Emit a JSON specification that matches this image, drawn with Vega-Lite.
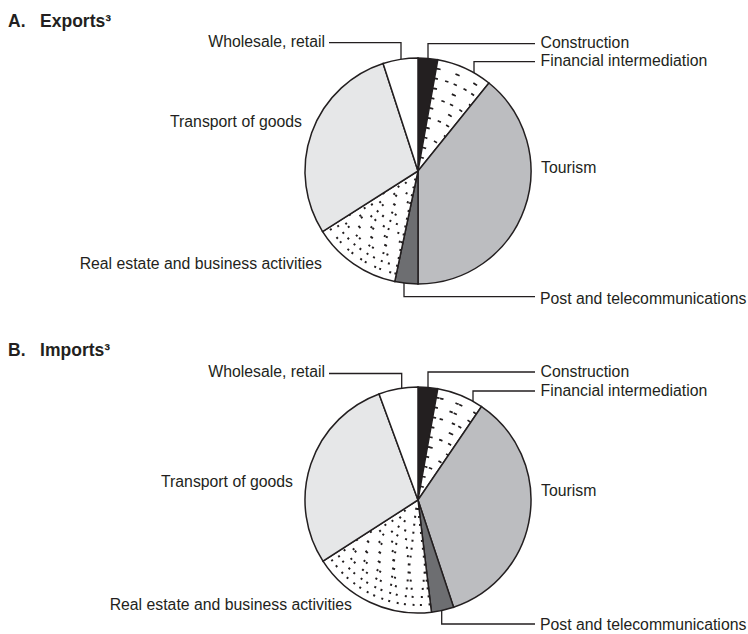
{
  "$schema": "https://vega.github.io/schema/vega-lite/v6.json",
  "padding": {"top": 12, "left": 0, "right": 0, "bottom": 0},
  "background": "white",
  "spacing": 34,
  "config": {"view": {"stroke": null}, "font": "Liberation Sans"},
  "datasets": {
    "slices": [
      {"flow": "Exports", "idx": 1, "sector": "Construction", "share": 2.8},
      {"flow": "Exports", "idx": 2, "sector": "Financial intermediation", "share": 8.0},
      {"flow": "Exports", "idx": 3, "sector": "Tourism", "share": 39.2},
      {"flow": "Exports", "idx": 4, "sector": "Post and telecommunications", "share": 3.3},
      {"flow": "Exports", "idx": 5, "sector": "Real estate and business activities", "share": 12.7},
      {"flow": "Exports", "idx": 6, "sector": "Transport of goods", "share": 29.0},
      {"flow": "Exports", "idx": 7, "sector": "Wholesale, retail", "share": 5.0},
      {"flow": "Imports", "idx": 1, "sector": "Construction", "share": 2.8},
      {"flow": "Imports", "idx": 2, "sector": "Financial intermediation", "share": 6.7},
      {"flow": "Imports", "idx": 3, "sector": "Tourism", "share": 35.4},
      {"flow": "Imports", "idx": 4, "sector": "Post and telecommunications", "share": 3.2},
      {"flow": "Imports", "idx": 5, "sector": "Real estate and business activities", "share": 17.8},
      {"flow": "Imports", "idx": 6, "sector": "Transport of goods", "share": 28.5},
      {"flow": "Imports", "idx": 7, "sector": "Wholesale, retail", "share": 5.6}
    ],
    "labels": [
      {"flow": "Exports", "label": "Wholesale, retail", "side": "left", "x": -93, "y": -124.5},
      {"flow": "Exports", "label": "Construction", "side": "right", "x": 122.5, "y": -123},
      {"flow": "Exports", "label": "Financial intermediation", "side": "right", "x": 122.5, "y": -105.5},
      {"flow": "Exports", "label": "Tourism", "side": "right", "x": 123, "y": 2},
      {"flow": "Exports", "label": "Post and telecommunications", "side": "right", "x": 122, "y": 133},
      {"flow": "Exports", "label": "Transport of goods", "side": "left", "x": -116, "y": -44},
      {"flow": "Exports", "label": "Real estate and business activities", "side": "left", "x": -96, "y": 98.3},
      {"flow": "Imports", "label": "Wholesale, retail", "side": "left", "x": -93, "y": -123.5},
      {"flow": "Imports", "label": "Construction", "side": "right", "x": 122.5, "y": -123.3},
      {"flow": "Imports", "label": "Financial intermediation", "side": "right", "x": 122.5, "y": -103.7},
      {"flow": "Imports", "label": "Tourism", "side": "right", "x": 123, "y": -4.5},
      {"flow": "Imports", "label": "Post and telecommunications", "side": "right", "x": 122, "y": 129.5},
      {"flow": "Imports", "label": "Transport of goods", "side": "left", "x": -125, "y": -13.2},
      {"flow": "Imports", "label": "Real estate and business activities", "side": "left", "x": -66, "y": 109.7}
    ],
    "leaders": [
      {"flow": "Exports", "label": "Wholesale, retail", "seq": 1, "x": -89, "y": -128.3},
      {"flow": "Exports", "label": "Wholesale, retail", "seq": 2, "x": -17, "y": -128.3},
      {"flow": "Exports", "label": "Wholesale, retail", "seq": 3, "x": -17, "y": -112},
      {"flow": "Exports", "label": "Construction", "seq": 1, "x": 10, "y": -112.5},
      {"flow": "Exports", "label": "Construction", "seq": 2, "x": 10, "y": -127.3},
      {"flow": "Exports", "label": "Construction", "seq": 3, "x": 117, "y": -127.3},
      {"flow": "Exports", "label": "Financial intermediation", "seq": 1, "x": 56, "y": -98},
      {"flow": "Exports", "label": "Financial intermediation", "seq": 2, "x": 56, "y": -109.3},
      {"flow": "Exports", "label": "Financial intermediation", "seq": 3, "x": 117, "y": -109.3},
      {"flow": "Exports", "label": "Post and telecommunications", "seq": 1, "x": -14, "y": 112},
      {"flow": "Exports", "label": "Post and telecommunications", "seq": 2, "x": -14, "y": 125.7},
      {"flow": "Exports", "label": "Post and telecommunications", "seq": 3, "x": 117, "y": 125.7},
      {"flow": "Imports", "label": "Wholesale, retail", "seq": 1, "x": -89, "y": -126.5},
      {"flow": "Imports", "label": "Wholesale, retail", "seq": 2, "x": -16.3, "y": -126.5},
      {"flow": "Imports", "label": "Wholesale, retail", "seq": 3, "x": -16.3, "y": -112},
      {"flow": "Imports", "label": "Construction", "seq": 1, "x": 10, "y": -112.5},
      {"flow": "Imports", "label": "Construction", "seq": 2, "x": 10, "y": -128},
      {"flow": "Imports", "label": "Construction", "seq": 3, "x": 117, "y": -128},
      {"flow": "Imports", "label": "Financial intermediation", "seq": 1, "x": 55, "y": -98.7},
      {"flow": "Imports", "label": "Financial intermediation", "seq": 2, "x": 55, "y": -109},
      {"flow": "Imports", "label": "Financial intermediation", "seq": 3, "x": 117, "y": -109},
      {"flow": "Imports", "label": "Post and telecommunications", "seq": 1, "x": 23.7, "y": 110.5},
      {"flow": "Imports", "label": "Post and telecommunications", "seq": 2, "x": 23.7, "y": 124},
      {"flow": "Imports", "label": "Post and telecommunications", "seq": 3, "x": 117, "y": 124}
    ]
  },
  "vconcat": [
    {
      "title": {"text": "A.\u00a0\u00a0\u00a0Exports³", "anchor": "start", "fontSize": 17.5, "fontWeight": "bold", "dx": 8, "offset": 2, "color": "#231f20", "font": "Liberation Sans"},
      "width": 748,
      "height": 275,
      "layer": [
        {
          "data": {"name": "slices"},
          "transform": [{"filter": "datum.flow === 'Exports'"}, {"stack": "share", "groupby": ["flow"], "sort": [{"field": "idx", "order": "ascending"}], "as": ["s0", "s1"]}],
          "mark": {"type": "arc", "outerRadius": 113, "stroke": "#231f20", "strokeWidth": 1.5},
          "encoding": {
            "theta": {"field": "s0", "type": "quantitative", "scale": {"domain": [0, 100]}},
            "theta2": {"field": "s1"},
            "color": {"field": "sector", "type": "nominal", "legend": null,
              "scale": {"domain": ["Construction", "Financial intermediation", "Tourism", "Post and telecommunications", "Real estate and business activities", "Transport of goods", "Wholesale, retail"],
                        "range": ["#231f20", "#ffffff", "#bcbdc0", "#6d6e71", "#ffffff", "#e6e7e8", "#ffffff"]}},
            "x": {"datum": 0, "type": "quantitative", "scale": {"domain": [-418, 330], "nice": false, "zero": false}, "axis": null},
            "y": {"datum": 0, "type": "quantitative", "scale": {"domain": [-139, 136], "nice": false, "zero": false, "reverse": true}, "axis": null}
          }
        },
        {
          "data": {"name": "slices"},
          "transform": [{"filter": "datum.flow === 'Exports'"}, {"stack": "share", "groupby": ["flow"], "sort": [{"field": "idx", "order": "ascending"}], "as": ["s0", "s1"]}, {"filter": "datum.sector === 'Real estate and business activities'"}],
          "encoding": {
            "theta": {"field": "s0", "type": "quantitative", "scale": {"domain": [0, 100]}},
            "theta2": {"field": "s1"},
            "x": {"datum": 0, "type": "quantitative", "scale": {"domain": [-418, 330], "nice": false, "zero": false}, "axis": null},
            "y": {"datum": 0, "type": "quantitative", "scale": {"domain": [-139, 136], "nice": false, "zero": false, "reverse": true}, "axis": null}
          },
          "layer": [
            {"mark": {"type": "arc", "innerRadius": 9, "outerRadius": 9, "fillOpacity": 0, "stroke": "#231f20", "strokeWidth": 2, "strokeDash": [2, 14]}},
            {"mark": {"type": "arc", "innerRadius": 17, "outerRadius": 17, "fillOpacity": 0, "stroke": "#231f20", "strokeWidth": 2, "strokeDash": [2, 14]}},
            {"mark": {"type": "arc", "innerRadius": 25, "outerRadius": 25, "fillOpacity": 0, "stroke": "#231f20", "strokeWidth": 2, "strokeDash": [2, 14]}},
            {"mark": {"type": "arc", "innerRadius": 33, "outerRadius": 33, "fillOpacity": 0, "stroke": "#231f20", "strokeWidth": 2, "strokeDash": [2, 14]}},
            {"mark": {"type": "arc", "innerRadius": 41, "outerRadius": 41, "fillOpacity": 0, "stroke": "#231f20", "strokeWidth": 2, "strokeDash": [2, 14]}},
            {"mark": {"type": "arc", "innerRadius": 49, "outerRadius": 49, "fillOpacity": 0, "stroke": "#231f20", "strokeWidth": 2, "strokeDash": [2, 14]}},
            {"mark": {"type": "arc", "innerRadius": 57, "outerRadius": 57, "fillOpacity": 0, "stroke": "#231f20", "strokeWidth": 2, "strokeDash": [2, 14]}},
            {"mark": {"type": "arc", "innerRadius": 65, "outerRadius": 65, "fillOpacity": 0, "stroke": "#231f20", "strokeWidth": 2, "strokeDash": [2, 14]}},
            {"mark": {"type": "arc", "innerRadius": 73, "outerRadius": 73, "fillOpacity": 0, "stroke": "#231f20", "strokeWidth": 2, "strokeDash": [2, 14]}},
            {"mark": {"type": "arc", "innerRadius": 81, "outerRadius": 81, "fillOpacity": 0, "stroke": "#231f20", "strokeWidth": 2, "strokeDash": [2, 14]}},
            {"mark": {"type": "arc", "innerRadius": 89, "outerRadius": 89, "fillOpacity": 0, "stroke": "#231f20", "strokeWidth": 2, "strokeDash": [2, 14]}},
            {"mark": {"type": "arc", "innerRadius": 97, "outerRadius": 97, "fillOpacity": 0, "stroke": "#231f20", "strokeWidth": 2, "strokeDash": [2, 14]}},
            {"mark": {"type": "arc", "innerRadius": 105, "outerRadius": 105, "fillOpacity": 0, "stroke": "#231f20", "strokeWidth": 2, "strokeDash": [2, 14]}}
          ]
        },
        {
          "data": {"name": "slices"},
          "transform": [{"filter": "datum.flow === 'Exports'"}, {"stack": "share", "groupby": ["flow"], "sort": [{"field": "idx", "order": "ascending"}], "as": ["s0", "s1"]}, {"filter": "datum.sector === 'Financial intermediation'"}],
          "encoding": {
            "theta": {"field": "s0", "type": "quantitative", "scale": {"domain": [0, 100]}},
            "theta2": {"field": "s1"},
            "x": {"datum": 0, "type": "quantitative", "scale": {"domain": [-418, 330], "nice": false, "zero": false}, "axis": null},
            "y": {"datum": 0, "type": "quantitative", "scale": {"domain": [-139, 136], "nice": false, "zero": false, "reverse": true}, "axis": null}
          },
          "layer": [
            {"mark": {"type": "arc", "innerRadius": 14, "outerRadius": 14, "fillOpacity": 0, "stroke": "#231f20", "strokeWidth": 1.7, "strokeDash": [3.5, 16.5]}},
            {"mark": {"type": "arc", "innerRadius": 24, "outerRadius": 24, "fillOpacity": 0, "stroke": "#231f20", "strokeWidth": 1.7, "strokeDash": [3.5, 16.5]}},
            {"mark": {"type": "arc", "innerRadius": 34, "outerRadius": 34, "fillOpacity": 0, "stroke": "#231f20", "strokeWidth": 1.7, "strokeDash": [3.5, 16.5]}},
            {"mark": {"type": "arc", "innerRadius": 44, "outerRadius": 44, "fillOpacity": 0, "stroke": "#231f20", "strokeWidth": 1.7, "strokeDash": [3.5, 16.5]}},
            {"mark": {"type": "arc", "innerRadius": 54, "outerRadius": 54, "fillOpacity": 0, "stroke": "#231f20", "strokeWidth": 1.7, "strokeDash": [3.5, 16.5]}},
            {"mark": {"type": "arc", "innerRadius": 64, "outerRadius": 64, "fillOpacity": 0, "stroke": "#231f20", "strokeWidth": 1.7, "strokeDash": [3.5, 16.5]}},
            {"mark": {"type": "arc", "innerRadius": 74, "outerRadius": 74, "fillOpacity": 0, "stroke": "#231f20", "strokeWidth": 1.7, "strokeDash": [3.5, 16.5]}},
            {"mark": {"type": "arc", "innerRadius": 84, "outerRadius": 84, "fillOpacity": 0, "stroke": "#231f20", "strokeWidth": 1.7, "strokeDash": [3.5, 16.5]}},
            {"mark": {"type": "arc", "innerRadius": 94, "outerRadius": 94, "fillOpacity": 0, "stroke": "#231f20", "strokeWidth": 1.7, "strokeDash": [3.5, 16.5]}},
            {"mark": {"type": "arc", "innerRadius": 104, "outerRadius": 104, "fillOpacity": 0, "stroke": "#231f20", "strokeWidth": 1.7, "strokeDash": [3.5, 16.5]}}
          ]
        },
        {
          "data": {"name": "leaders"},
          "transform": [{"filter": "datum.flow === 'Exports'"}],
          "mark": {"type": "line", "stroke": "#231f20", "strokeWidth": 1.3},
          "encoding": {
            "x": {"field": "x", "type": "quantitative", "scale": {"domain": [-418, 330], "nice": false, "zero": false}, "axis": null},
            "y": {"field": "y", "type": "quantitative", "scale": {"domain": [-139, 136], "nice": false, "zero": false, "reverse": true}, "axis": null},
            "detail": {"field": "label"},
            "order": {"field": "seq", "type": "quantitative"}
          }
        },
        {
          "data": {"name": "labels"},
          "transform": [{"filter": "datum.flow === 'Exports' && datum.side === 'right'"}],
          "mark": {"type": "text", "align": "left", "baseline": "alphabetic", "fontSize": 15.8, "font": "Liberation Sans", "color": "#231f20"},
          "encoding": {
            "x": {"field": "x", "type": "quantitative", "scale": {"domain": [-418, 330], "nice": false, "zero": false}, "axis": null},
            "y": {"field": "y", "type": "quantitative", "scale": {"domain": [-139, 136], "nice": false, "zero": false, "reverse": true}, "axis": null},
            "text": {"field": "label"}
          }
        },
        {
          "data": {"name": "labels"},
          "transform": [{"filter": "datum.flow === 'Exports' && datum.side === 'left'"}],
          "mark": {"type": "text", "align": "right", "baseline": "alphabetic", "fontSize": 15.8, "font": "Liberation Sans", "color": "#231f20"},
          "encoding": {
            "x": {"field": "x", "type": "quantitative", "scale": {"domain": [-418, 330], "nice": false, "zero": false}, "axis": null},
            "y": {"field": "y", "type": "quantitative", "scale": {"domain": [-139, 136], "nice": false, "zero": false, "reverse": true}, "axis": null},
            "text": {"field": "label"}
          }
        }
      ]
    },
    {
      "title": {"text": "B.\u00a0\u00a0\u00a0Imports³", "anchor": "start", "fontSize": 17.5, "fontWeight": "bold", "dx": 8, "offset": 2, "color": "#231f20", "font": "Liberation Sans"},
      "width": 748,
      "height": 272,
      "layer": [
        {
          "data": {"name": "slices"},
          "transform": [{"filter": "datum.flow === 'Imports'"}, {"stack": "share", "groupby": ["flow"], "sort": [{"field": "idx", "order": "ascending"}], "as": ["s0", "s1"]}],
          "mark": {"type": "arc", "outerRadius": 113, "stroke": "#231f20", "strokeWidth": 1.5},
          "encoding": {
            "theta": {"field": "s0", "type": "quantitative", "scale": {"domain": [0, 100]}},
            "theta2": {"field": "s1"},
            "color": {"field": "sector", "type": "nominal", "legend": null,
              "scale": {"domain": ["Construction", "Financial intermediation", "Tourism", "Post and telecommunications", "Real estate and business activities", "Transport of goods", "Wholesale, retail"],
                        "range": ["#231f20", "#ffffff", "#bcbdc0", "#6d6e71", "#ffffff", "#e6e7e8", "#ffffff"]}},
            "x": {"datum": 0, "type": "quantitative", "scale": {"domain": [-418, 330], "nice": false, "zero": false}, "axis": null},
            "y": {"datum": 0, "type": "quantitative", "scale": {"domain": [-139, 133], "nice": false, "zero": false, "reverse": true}, "axis": null}
          }
        },
        {
          "data": {"name": "slices"},
          "transform": [{"filter": "datum.flow === 'Imports'"}, {"stack": "share", "groupby": ["flow"], "sort": [{"field": "idx", "order": "ascending"}], "as": ["s0", "s1"]}, {"filter": "datum.sector === 'Real estate and business activities'"}],
          "encoding": {
            "theta": {"field": "s0", "type": "quantitative", "scale": {"domain": [0, 100]}},
            "theta2": {"field": "s1"},
            "x": {"datum": 0, "type": "quantitative", "scale": {"domain": [-418, 330], "nice": false, "zero": false}, "axis": null},
            "y": {"datum": 0, "type": "quantitative", "scale": {"domain": [-139, 133], "nice": false, "zero": false, "reverse": true}, "axis": null}
          },
          "layer": [
            {"mark": {"type": "arc", "innerRadius": 9, "outerRadius": 9, "fillOpacity": 0, "stroke": "#231f20", "strokeWidth": 2, "strokeDash": [2, 14]}},
            {"mark": {"type": "arc", "innerRadius": 17, "outerRadius": 17, "fillOpacity": 0, "stroke": "#231f20", "strokeWidth": 2, "strokeDash": [2, 14]}},
            {"mark": {"type": "arc", "innerRadius": 25, "outerRadius": 25, "fillOpacity": 0, "stroke": "#231f20", "strokeWidth": 2, "strokeDash": [2, 14]}},
            {"mark": {"type": "arc", "innerRadius": 33, "outerRadius": 33, "fillOpacity": 0, "stroke": "#231f20", "strokeWidth": 2, "strokeDash": [2, 14]}},
            {"mark": {"type": "arc", "innerRadius": 41, "outerRadius": 41, "fillOpacity": 0, "stroke": "#231f20", "strokeWidth": 2, "strokeDash": [2, 14]}},
            {"mark": {"type": "arc", "innerRadius": 49, "outerRadius": 49, "fillOpacity": 0, "stroke": "#231f20", "strokeWidth": 2, "strokeDash": [2, 14]}},
            {"mark": {"type": "arc", "innerRadius": 57, "outerRadius": 57, "fillOpacity": 0, "stroke": "#231f20", "strokeWidth": 2, "strokeDash": [2, 14]}},
            {"mark": {"type": "arc", "innerRadius": 65, "outerRadius": 65, "fillOpacity": 0, "stroke": "#231f20", "strokeWidth": 2, "strokeDash": [2, 14]}},
            {"mark": {"type": "arc", "innerRadius": 73, "outerRadius": 73, "fillOpacity": 0, "stroke": "#231f20", "strokeWidth": 2, "strokeDash": [2, 14]}},
            {"mark": {"type": "arc", "innerRadius": 81, "outerRadius": 81, "fillOpacity": 0, "stroke": "#231f20", "strokeWidth": 2, "strokeDash": [2, 14]}},
            {"mark": {"type": "arc", "innerRadius": 89, "outerRadius": 89, "fillOpacity": 0, "stroke": "#231f20", "strokeWidth": 2, "strokeDash": [2, 14]}},
            {"mark": {"type": "arc", "innerRadius": 97, "outerRadius": 97, "fillOpacity": 0, "stroke": "#231f20", "strokeWidth": 2, "strokeDash": [2, 14]}},
            {"mark": {"type": "arc", "innerRadius": 105, "outerRadius": 105, "fillOpacity": 0, "stroke": "#231f20", "strokeWidth": 2, "strokeDash": [2, 14]}}
          ]
        },
        {
          "data": {"name": "slices"},
          "transform": [{"filter": "datum.flow === 'Imports'"}, {"stack": "share", "groupby": ["flow"], "sort": [{"field": "idx", "order": "ascending"}], "as": ["s0", "s1"]}, {"filter": "datum.sector === 'Financial intermediation'"}],
          "encoding": {
            "theta": {"field": "s0", "type": "quantitative", "scale": {"domain": [0, 100]}},
            "theta2": {"field": "s1"},
            "x": {"datum": 0, "type": "quantitative", "scale": {"domain": [-418, 330], "nice": false, "zero": false}, "axis": null},
            "y": {"datum": 0, "type": "quantitative", "scale": {"domain": [-139, 133], "nice": false, "zero": false, "reverse": true}, "axis": null}
          },
          "layer": [
            {"mark": {"type": "arc", "innerRadius": 14, "outerRadius": 14, "fillOpacity": 0, "stroke": "#231f20", "strokeWidth": 1.7, "strokeDash": [3.5, 16.5]}},
            {"mark": {"type": "arc", "innerRadius": 24, "outerRadius": 24, "fillOpacity": 0, "stroke": "#231f20", "strokeWidth": 1.7, "strokeDash": [3.5, 16.5]}},
            {"mark": {"type": "arc", "innerRadius": 34, "outerRadius": 34, "fillOpacity": 0, "stroke": "#231f20", "strokeWidth": 1.7, "strokeDash": [3.5, 16.5]}},
            {"mark": {"type": "arc", "innerRadius": 44, "outerRadius": 44, "fillOpacity": 0, "stroke": "#231f20", "strokeWidth": 1.7, "strokeDash": [3.5, 16.5]}},
            {"mark": {"type": "arc", "innerRadius": 54, "outerRadius": 54, "fillOpacity": 0, "stroke": "#231f20", "strokeWidth": 1.7, "strokeDash": [3.5, 16.5]}},
            {"mark": {"type": "arc", "innerRadius": 64, "outerRadius": 64, "fillOpacity": 0, "stroke": "#231f20", "strokeWidth": 1.7, "strokeDash": [3.5, 16.5]}},
            {"mark": {"type": "arc", "innerRadius": 74, "outerRadius": 74, "fillOpacity": 0, "stroke": "#231f20", "strokeWidth": 1.7, "strokeDash": [3.5, 16.5]}},
            {"mark": {"type": "arc", "innerRadius": 84, "outerRadius": 84, "fillOpacity": 0, "stroke": "#231f20", "strokeWidth": 1.7, "strokeDash": [3.5, 16.5]}},
            {"mark": {"type": "arc", "innerRadius": 94, "outerRadius": 94, "fillOpacity": 0, "stroke": "#231f20", "strokeWidth": 1.7, "strokeDash": [3.5, 16.5]}},
            {"mark": {"type": "arc", "innerRadius": 104, "outerRadius": 104, "fillOpacity": 0, "stroke": "#231f20", "strokeWidth": 1.7, "strokeDash": [3.5, 16.5]}}
          ]
        },
        {
          "data": {"name": "leaders"},
          "transform": [{"filter": "datum.flow === 'Imports'"}],
          "mark": {"type": "line", "stroke": "#231f20", "strokeWidth": 1.3},
          "encoding": {
            "x": {"field": "x", "type": "quantitative", "scale": {"domain": [-418, 330], "nice": false, "zero": false}, "axis": null},
            "y": {"field": "y", "type": "quantitative", "scale": {"domain": [-139, 133], "nice": false, "zero": false, "reverse": true}, "axis": null},
            "detail": {"field": "label"},
            "order": {"field": "seq", "type": "quantitative"}
          }
        },
        {
          "data": {"name": "labels"},
          "transform": [{"filter": "datum.flow === 'Imports' && datum.side === 'right'"}],
          "mark": {"type": "text", "align": "left", "baseline": "alphabetic", "fontSize": 15.8, "font": "Liberation Sans", "color": "#231f20"},
          "encoding": {
            "x": {"field": "x", "type": "quantitative", "scale": {"domain": [-418, 330], "nice": false, "zero": false}, "axis": null},
            "y": {"field": "y", "type": "quantitative", "scale": {"domain": [-139, 133], "nice": false, "zero": false, "reverse": true}, "axis": null},
            "text": {"field": "label"}
          }
        },
        {
          "data": {"name": "labels"},
          "transform": [{"filter": "datum.flow === 'Imports' && datum.side === 'left'"}],
          "mark": {"type": "text", "align": "right", "baseline": "alphabetic", "fontSize": 15.8, "font": "Liberation Sans", "color": "#231f20"},
          "encoding": {
            "x": {"field": "x", "type": "quantitative", "scale": {"domain": [-418, 330], "nice": false, "zero": false}, "axis": null},
            "y": {"field": "y", "type": "quantitative", "scale": {"domain": [-139, 133], "nice": false, "zero": false, "reverse": true}, "axis": null},
            "text": {"field": "label"}
          }
        }
      ]
    }
  ]
}
